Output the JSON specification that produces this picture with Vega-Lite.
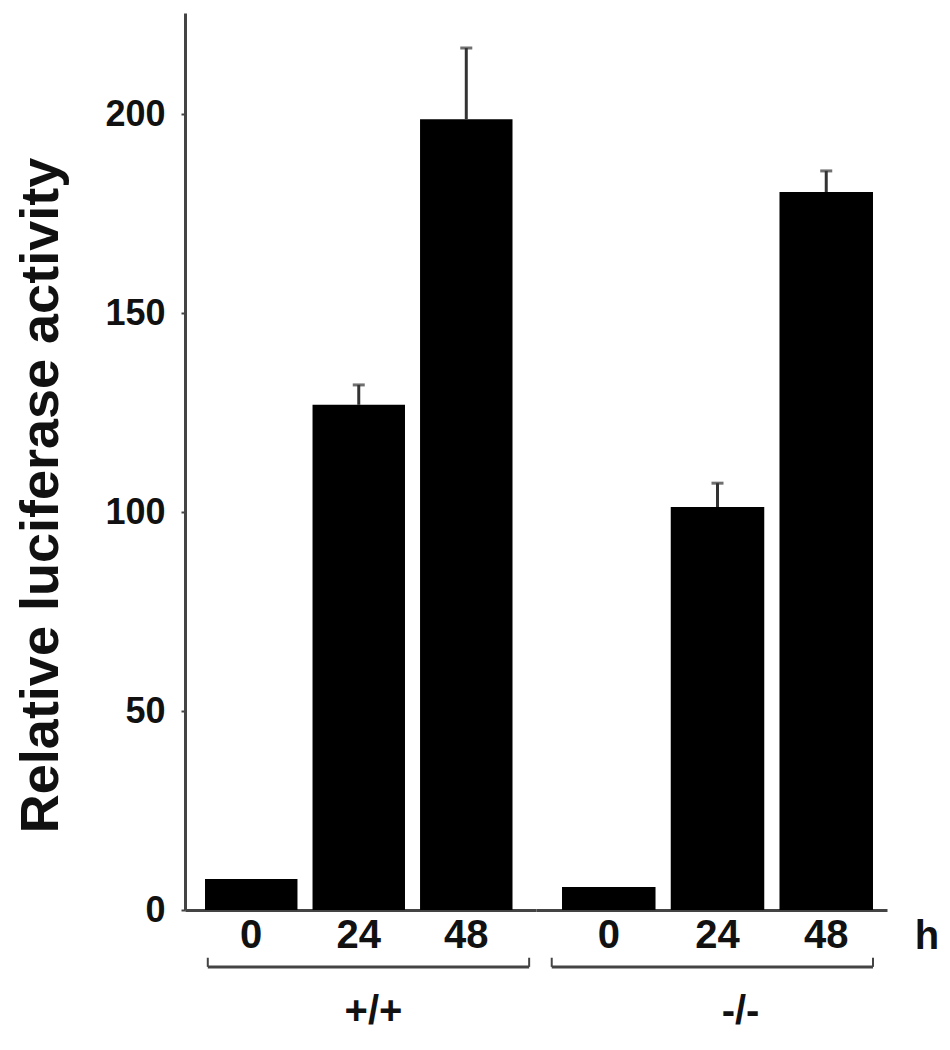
{
  "$schema": "https://vega.github.io/schema/vega-lite/v6.json",
  "background": "white",
  "padding": {"left": 14, "top": 13, "right": 0, "bottom": 0},
  "data": {
    "values": [
      {"genotype": "+/+", "hour": "0", "value": 7.8, "upper": 7.8},
      {"genotype": "+/+", "hour": "24", "value": 127, "upper": 132},
      {"genotype": "+/+", "hour": "48", "value": 198.8, "upper": 216.7},
      {"genotype": "-/-", "hour": "0", "value": 5.8, "upper": 5.8},
      {"genotype": "-/-", "hour": "24", "value": 101.3, "upper": 107.3},
      {"genotype": "-/-", "hour": "48", "value": 180.5, "upper": 185.8}
    ]
  },
  "spacing": 0,
  "resolve": {"scale": {"y": "shared"}},
  "config": {
    "font": "Liberation Sans",
    "view": {"stroke": null},
    "axis": {"grid": false, "domainColor": "#444", "domainWidth": 3, "labelColor": "#111", "titleColor": "#111", "labelFontWeight": "bold", "titleFontWeight": "bold"}
  },
  "hconcat": [
    {
      "width": 351,
      "height": 897,
      "transform": [{"filter": "datum.genotype === '+/+'"}],
      "layer": [
        {
          "mark": {"type": "bar", "color": "black"},
          "encoding": {
            "x": {"field": "hour", "type": "ordinal", "sort": ["0", "24", "48"],
              "scale": {"paddingInner": 0.14, "paddingOuter": 0.2023, "align": 0.46},
              "axis": {"title": "+/+", "titleX": 188, "titleFontSize": 40, "titlePadding": 36, "labelFontSize": 40, "labelPadding": 5, "ticks": false, "labelAngle": 0}},
            "y": {"field": "value", "type": "quantitative",
              "scale": {"domain": [0, 225.5], "nice": false, "zero": true},
              "axis": {"title": "Relative luciferase activity", "titleFontSize": 54, "titlePadding": 36, "titleY": 482,
                "values": [0, 50, 100, 150, 200], "labelFontSize": 36, "labelPadding": 16,
                "tickSize": 4, "tickOffset": 0, "tickWidth": 2, "tickColor": "#444"}}
          }
        },
        {
          "transform": [{"filter": "datum.upper > datum.value"}],
          "mark": {"type": "rule", "color": "#333", "strokeWidth": 3},
          "encoding": {
            "x": {"field": "hour", "type": "ordinal", "sort": ["0", "24", "48"]},
            "y": {"field": "value", "type": "quantitative"},
            "y2": {"field": "upper"}
          }
        },
        {
          "transform": [{"filter": "datum.upper > datum.value"}],
          "mark": {"type": "tick", "color": "#333", "thickness": 3, "size": 12},
          "encoding": {
            "x": {"field": "hour", "type": "ordinal", "sort": ["0", "24", "48"]},
            "y": {"field": "upper", "type": "quantitative"}
          }
        },
        {
          "data": {"values": [{}]},
          "mark": {"type": "rule", "color": "#444", "strokeWidth": 3},
          "encoding": {
            "x": {"datum": "0", "type": "ordinal", "bandPosition": 0.03},
            "x2": {"datum": "48", "bandPosition": 1.18},
            "y": {"datum": -14.3, "type": "quantitative"}
          }
        },
        {
          "data": {"values": [{}]},
          "mark": {"type": "rule", "color": "#444", "strokeWidth": 2},
          "encoding": {
            "x": {"datum": "0", "type": "ordinal", "bandPosition": 0.03},
            "y": {"datum": -14.3, "type": "quantitative"},
            "y2": {"datum": -12}
          }
        },
        {
          "data": {"values": [{}]},
          "mark": {"type": "rule", "color": "#444", "strokeWidth": 2},
          "encoding": {
            "x": {"datum": "48", "type": "ordinal", "bandPosition": 1.18},
            "y": {"datum": -14.3, "type": "quantitative"},
            "y2": {"datum": -12}
          }
        }
      ]
    },
    {
      "width": 351,
      "height": 897,
      "transform": [{"filter": "datum.genotype === '-/-'"}],
      "layer": [
        {
          "mark": {"type": "bar", "color": "black"},
          "encoding": {
            "x": {"field": "hour", "type": "ordinal", "sort": ["0", "24", "48"],
              "scale": {"paddingInner": 0.14, "paddingOuter": 0.184, "align": 0.65},
              "axis": {"title": "-/-", "titleX": 204, "titleFontSize": 40, "titlePadding": 36, "labelFontSize": 40, "labelPadding": 5, "ticks": false, "labelAngle": 0}},
            "y": {"field": "value", "type": "quantitative", "axis": null}
          }
        },
        {
          "transform": [{"filter": "datum.upper > datum.value"}],
          "mark": {"type": "rule", "color": "#333", "strokeWidth": 3},
          "encoding": {
            "x": {"field": "hour", "type": "ordinal", "sort": ["0", "24", "48"]},
            "y": {"field": "value", "type": "quantitative"},
            "y2": {"field": "upper"}
          }
        },
        {
          "transform": [{"filter": "datum.upper > datum.value"}],
          "mark": {"type": "tick", "color": "#333", "thickness": 3, "size": 12},
          "encoding": {
            "x": {"field": "hour", "type": "ordinal", "sort": ["0", "24", "48"]},
            "y": {"field": "upper", "type": "quantitative"}
          }
        },
        {
          "data": {"values": [{}]},
          "mark": {"type": "rule", "color": "#444", "strokeWidth": 3},
          "encoding": {
            "x": {"datum": "0", "type": "ordinal", "bandPosition": -0.11},
            "x2": {"datum": "48", "bandPosition": 1.0},
            "y": {"datum": -14.3, "type": "quantitative"}
          }
        },
        {
          "data": {"values": [{}]},
          "mark": {"type": "rule", "color": "#444", "strokeWidth": 2},
          "encoding": {
            "x": {"datum": "0", "type": "ordinal", "bandPosition": -0.11},
            "y": {"datum": -14.3, "type": "quantitative"},
            "y2": {"datum": -12}
          }
        },
        {
          "data": {"values": [{}]},
          "mark": {"type": "rule", "color": "#444", "strokeWidth": 2},
          "encoding": {
            "x": {"datum": "48", "type": "ordinal", "bandPosition": 1.0},
            "y": {"datum": -14.3, "type": "quantitative"},
            "y2": {"datum": -12}
          }
        },
        {
          "data": {"values": [{}]},
          "mark": {"type": "text", "text": "h", "fontSize": 40, "fontWeight": "bold", "color": "#111", "baseline": "middle", "align": "center", "dx": 54},
          "encoding": {
            "x": {"datum": "48", "type": "ordinal", "bandPosition": 1},
            "y": {"datum": -6.8, "type": "quantitative"}
          }
        }
      ]
    }
  ]
}
